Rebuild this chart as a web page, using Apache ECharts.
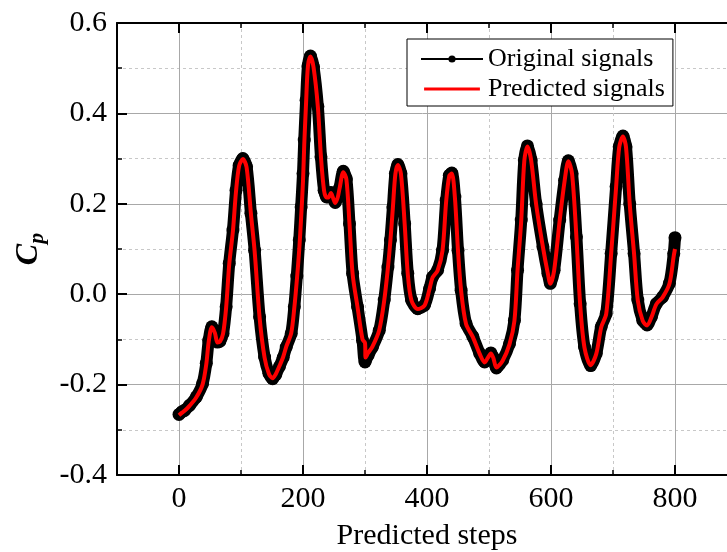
<!DOCTYPE html>
<html><head><meta charset="utf-8">
<script src="https://cdn.jsdelivr.net/npm/echarts@6/dist/echarts.min.js"></script>
<style>html,body{margin:0;padding:0;background:#fff}#c{width:727px;height:552px}</style>
</head><body><div id="c"></div>
<script>
// ---- data ----
const originalSteps = [0,5,9,17,28,38,44,48,53,58,62,66,71,76,81,87,92,97,103,109,116,122,130,138,145,151,156,162,168,173,181,186,190,194,197,200,202,205,208,212,217,224,229,234,238,241,245,249,252,256,259,265,270,275,280,288,296,300,305,312,323,331,337,341,345,349,353,358,364,369,375,385,396,404,409,417,425,431,436,440,445,450,455,463,474,485,493,498,503,507,512,522,533,541,546,552,557,562,568,576,587,595,599,605,614,622,628,634,641,647,654,664,673,681,689,697,705,710,716,721,727,734,740,748,755,762,770,780,791,798,800];
const originalValues = [-0.266,-0.260,-0.257,-0.246,-0.227,-0.198,-0.153,-0.102,-0.072,-0.085,-0.106,-0.104,-0.087,-0.028,0.068,0.142,0.230,0.285,0.300,0.282,0.179,0.097,-0.050,-0.139,-0.175,-0.187,-0.178,-0.160,-0.140,-0.117,-0.087,-0.028,0.040,0.120,0.193,0.267,0.341,0.429,0.505,0.527,0.503,0.415,0.304,0.230,0.215,0.215,0.225,0.212,0.203,0.215,0.235,0.272,0.255,0.156,0.046,-0.028,-0.102,-0.150,-0.135,-0.117,-0.080,-0.013,0.060,0.120,0.193,0.267,0.287,0.267,0.156,0.046,-0.013,-0.032,-0.024,0.012,0.038,0.053,0.097,0.208,0.263,0.268,0.215,0.097,0.009,-0.065,-0.094,-0.131,-0.150,-0.140,-0.130,-0.140,-0.163,-0.146,-0.110,-0.058,0.053,0.164,0.297,0.328,0.297,0.200,0.105,0.046,0.024,0.053,0.164,0.252,0.295,0.267,0.127,-0.021,-0.117,-0.158,-0.131,-0.072,-0.043,0.090,0.238,0.326,0.350,0.326,0.200,0.090,-0.013,-0.058,-0.068,-0.050,-0.021,-0.006,0.024,0.090,0.125];
const predictedSteps = [0,5,9,17,28,38,44,48,53,58,62,66,71,76,81,87,92,97,103,109,116,122,130,138,145,151,156,162,168,173,181,186,190,194,197,200,202,205,208,212,217,224,229,234,238,241,245,249,252,256,259,265,270,275,280,288,296,300,301,305,312,323,331,337,341,345,349,353,358,364,369,375,385,396,404,409,417,425,431,436,440,445,450,455,463,474,485,493,498,503,507,512,522,533,541,546,552,557,562,568,576,587,595,599,605,614,622,628,634,641,647,654,664,673,681,689,697,705,710,716,721,727,734,740,748,755,762,770,780,791,798,800];
const predictedValues = [-0.268,-0.262,-0.258,-0.247,-0.228,-0.200,-0.155,-0.104,-0.073,-0.086,-0.107,-0.105,-0.088,-0.030,0.066,0.140,0.228,0.284,0.299,0.281,0.178,0.095,-0.052,-0.140,-0.176,-0.186,-0.177,-0.159,-0.139,-0.116,-0.086,-0.030,0.030,0.100,0.170,0.250,0.330,0.425,0.505,0.526,0.502,0.414,0.303,0.229,0.214,0.214,0.224,0.211,0.202,0.214,0.234,0.270,0.254,0.155,0.045,-0.029,-0.100,-0.108,-0.140,-0.130,-0.116,-0.079,-0.014,0.059,0.119,0.192,0.266,0.286,0.266,0.155,0.045,-0.014,-0.033,-0.025,0.011,0.037,0.052,0.096,0.207,0.262,0.267,0.214,0.096,0.008,-0.066,-0.095,-0.132,-0.151,-0.141,-0.131,-0.141,-0.162,-0.147,-0.111,-0.059,0.052,0.163,0.296,0.327,0.296,0.199,0.104,0.045,0.023,0.052,0.163,0.251,0.294,0.266,0.126,-0.022,-0.118,-0.157,-0.132,-0.073,-0.044,0.089,0.237,0.325,0.349,0.325,0.199,0.089,-0.014,-0.059,-0.069,-0.051,-0.022,-0.007,0.023,0.085,0.100];
const seriesNames = ['Original signals', 'Predicted signals'];
const xAxisTitle = 'Predicted steps';

// ---- chart ----
const FONT = '"Liberation Serif","Times New Roman",serif';
const orig = originalSteps.map((s, i) => [s, originalValues[i]]);
const pred = predictedSteps.map((s, i) => [s, predictedValues[i]]);
const chart = echarts.init(document.getElementById('c'), null, {renderer: 'canvas'});

const tickCommon = {
  axisLine: {show: true, onZero: false, lineStyle: {color: '#000', width: 2}},
  axisTick: {show: true, inside: true, length: 10, lineStyle: {color: '#000', width: 2}},
  minorTick: {show: true, splitNumber: 2, length: 5, lineStyle: {color: '#000', width: 1.5}}
};
// thin horizontal bar icon (tiny corner specks keep the bounding box 62 x 10)
const redLineIcon = 'path://M0,0L0.01,0L0.01,0.01Z M0,3.2L62,3.2L62,6.8L0,6.8Z M61.99,9.99L62,9.99L62,10Z';

chart.setOption({
  animation: false,
  backgroundColor: '#fff',
  grid: {left: 117, top: 23, width: 620, height: 452, containLabel: false, outerBoundsMode: 'none'},
  legend: {
    orient: 'vertical', left: 407, top: 39,
    backgroundColor: '#fff', borderColor: '#000', borderWidth: 1, borderRadius: 0,
    padding: [7, 8, 4, 13], itemGap: 4, itemWidth: 62, itemHeight: 9,
    textStyle: {fontFamily: FONT, fontSize: 26, color: '#000'},
    data: [
      {name: seriesNames[0]},
      {name: seriesNames[1], icon: redLineIcon, itemStyle: {color: '#ff0000'}}
    ]
  },
  xAxis: [
    Object.assign({
      type: 'value', position: 'bottom', min: -100, max: 900, splitNumber: 5,
      name: xAxisTitle, nameLocation: 'middle', nameGap: 46,
      nameTextStyle: {fontFamily: FONT, fontSize: 30, color: '#000'},
      splitLine: {show: true, lineStyle: {color: '#a8a8a8', width: 1}},
      minorSplitLine: {show: true, lineStyle: {color: '#c8c8c8', width: 1, type: [3, 3]}},
      axisLabel: {fontFamily: FONT, fontSize: 30, color: '#000', margin: 9,
        formatter: v => (v < 0 || v > 800) ? '' : String(v)}
    }, tickCommon),
    Object.assign({
      type: 'value', position: 'top', min: -100, max: 900, splitNumber: 5,
      splitLine: {show: false}, axisLabel: {show: false}
    }, tickCommon)
  ],
  yAxis: [
    Object.assign({
      type: 'value', position: 'left', min: -0.4, max: 0.6, interval: 0.2,
      name: '{c|C}{p|p}', nameLocation: 'middle', nameGap: 54,
      nameTextStyle: {
        rich: {
          c: {fontFamily: FONT, fontSize: 32, fontWeight: 'bold', fontStyle: 'italic', color: '#000', lineHeight: 30, verticalAlign: 'top'},
          p: {fontFamily: FONT, fontSize: 22, fontWeight: 'bold', fontStyle: 'italic', color: '#000', lineHeight: 50}
        }
      },
      splitLine: {show: true, lineStyle: {color: '#a8a8a8', width: 1}},
      minorSplitLine: {show: true, lineStyle: {color: '#c8c8c8', width: 1, type: [3, 3]}},
      axisLabel: {fontFamily: FONT, fontSize: 30, color: '#000', margin: 10,
        formatter: v => v.toFixed(1)}
    }, tickCommon)
  ],
  series: [
    {
      name: '_band', type: 'line', data: orig, xAxisIndex: 0, yAxisIndex: 0,
      symbol: 'none', smooth: 0.3, z: 2, silent: true,
      lineStyle: {color: '#000', width: 12}
    },
    {
      name: seriesNames[0], type: 'line', data: orig, xAxisIndex: 0, yAxisIndex: 0,
      symbol: 'circle', symbolSize: 13, showSymbol: true, showAllSymbol: true, smooth: 0.3, z: 3,
      itemStyle: {color: '#000'}, lineStyle: {color: '#000', width: 2}
    },
    {
      name: seriesNames[1], type: 'line', data: pred, xAxisIndex: 0, yAxisIndex: 0,
      symbol: 'none', smooth: 0.3, z: 4,
      itemStyle: {color: '#ff0000'}, lineStyle: {color: '#ff0000', width: 4}
    }
  ]
});
</script>
</body></html>
